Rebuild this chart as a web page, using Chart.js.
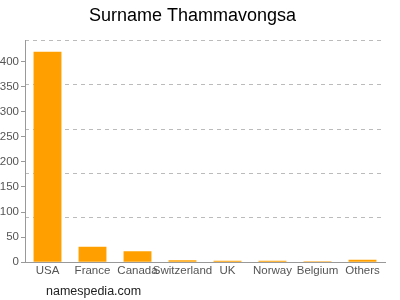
<!DOCTYPE html>
<html>
<head>
<meta charset="utf-8">
<script src="https://cdn.jsdelivr.net/npm/chart.js@4"></script>
<style>
  body { margin: 0; background: #fff; }
  #wrap { position: relative; width: 400px; height: 300px; }
  #footer { position: absolute; left: 46px; top: 284px; font: 12.5px "Liberation Sans", Arial, sans-serif; color: #222; }
</style>
</head>
<body>
<div id="wrap">
  <canvas id="chart" width="400" height="300"></canvas>
  <div id="footer">namespedia.com</div>
</div>
<script>
const categorias = ['USA', 'France', 'Canada', 'Switzerland', 'UK', 'Norway', 'Belgium', 'Others'];
const valores = [420, 31, 22, 4, 3, 3, 2, 5];
const yTicks = [0, 50, 100, 150, 200, 250, 300, 350, 400];
const yMax = 442;
const gridLinhas = [88.4, 176.8, 265.2, 353.6, 442];

const fonte = { family: '"Liberation Sans", Arial, sans-serif', size: 11.5 };

new Chart(document.getElementById('chart').getContext('2d'), {
    type: 'bar',
    data: {
        labels: categorias,
        datasets: [{
            data: valores,
            backgroundColor: '#ffa000',
            barPercentage: 0.62,
            categoryPercentage: 1
        }]
    },
    options: {
        responsive: false,
        animation: false,
        layout: { padding: { top: 0, right: 15, bottom: 20, left: 0 } },
        plugins: {
            legend: { display: false },
            tooltip: { enabled: false },
            title: {
                display: true,
                text: 'Surname Thammavongsa',
                color: '#000',
                font: { family: '"Liberation Sans", Arial, sans-serif', size: 18, weight: 'normal' },
                padding: { top: 5, bottom: 14 }
            }
        },
        scales: {
            x: {
                grid: { display: false, drawTicks: false },
                border: { color: '#999' },
                ticks: { color: '#555', font: fonte, padding: 2, maxRotation: 0, autoSkip: false }
            },
            y: {
                min: 0,
                max: yMax,
                afterBuildTicks: axis => { axis.ticks = yTicks.map(v => ({ value: v })); },
                afterFit: axis => { axis.width = 25; },
                grid: { drawOnChartArea: false, drawTicks: true, tickLength: 4, color: '#999' },
                border: { color: '#999' },
                ticks: { color: '#555', font: fonte, padding: 2 }
            },
            y2: {
                position: 'right',
                min: 0,
                max: yMax,
                afterBuildTicks: axis => { axis.ticks = gridLinhas.map(v => ({ value: v })); },
                afterFit: axis => { axis.width = 0; },
                grid: { color: '#bbb', drawTicks: false },
                border: { display: false, dash: [4, 4] },
                ticks: { display: false }
            }
        }
    }
});
</script>
</body>
</html>
